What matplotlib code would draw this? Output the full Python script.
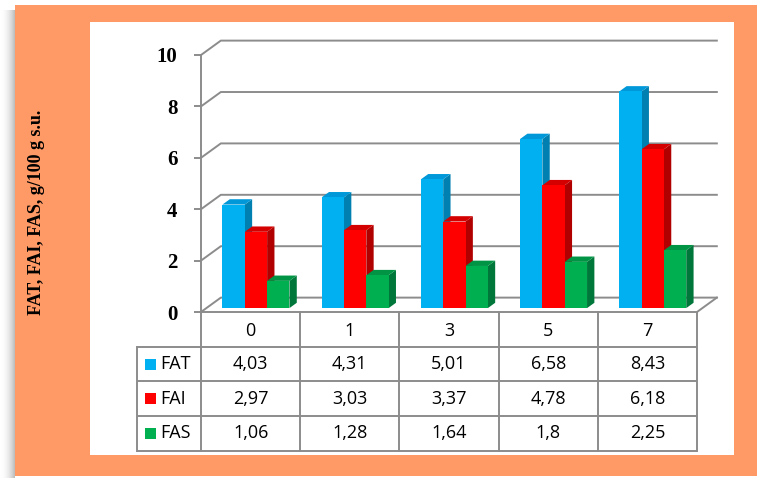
import matplotlib.pyplot as plt
import numpy as np
from matplotlib.patches import Rectangle, Polygon

# data
days = ["0", "1", "3", "5", "7"]
fat = [4.03, 4.31, 5.01, 6.58, 8.43]
fai = [2.97, 3.03, 3.37, 4.78, 6.18]
fas = [1.06, 1.28, 1.64, 1.8, 2.25]
series_names = ["FAT", "FAI", "FAS"]
series_vals = [fat, fai, fas]

front = ["#00B0F0", "#FF0000", "#00B050"]
side = ["#0080B0", "#B00000", "#00773A"]
top = ["#0098D8", "#D40000", "#009444"]

grid_c = "#8C8C8C"
orange = "#FF9966"

W, H = 759, 478
fig = plt.figure(figsize=(W / 100, H / 100), dpi=100)

# background layer in pixel coordinates
bg = fig.add_axes([0, 0, 1, 1], zorder=0)
bg.set_xlim(0, W)
bg.set_ylim(H, 0)
bg.axis("off")

# soft shadow left of the orange frame
for k in range(15):
    a = 0.45 * (k / 14) ** 2
    bg.add_patch(Rectangle((k, 10), 1, H - 10, color="#707070", alpha=a, lw=0))
bg.add_patch(Rectangle((15, 5), 742, 471, color=orange, lw=0))
bg.add_patch(Rectangle((90, 22), 644, 433, color="white", lw=0))

bg.text(37, 212, "FAT, FAI, FAS, g/100 g s.u.", rotation=90, ha="center",
        va="center", fontsize=13, fontweight="bold", family="Liberation Serif")

# data table under the plot
col_l, col_w = 201, 99.2
leg_l = 137
rows = [312, 347, 381, 416, 451]
ncol = len(days)
col_r = col_l + ncol * col_w
lw_t = 1.4
for y in rows[1:]:
    bg.plot([leg_l, col_r], [y, y], color=grid_c, lw=lw_t, solid_capstyle="butt")
for j in range(ncol + 1):
    x = col_l + j * col_w
    bg.plot([x, x], [rows[0], rows[-1]], color=grid_c, lw=lw_t)
bg.plot([leg_l, leg_l], [rows[1], rows[-1]], color=grid_c, lw=lw_t)

tfont = dict(family="Open Sans", fontsize=13, ha="center", va="center")
for j, d in enumerate(days):
    bg.text(col_l + (j + 0.5) * col_w, (rows[0] + rows[1]) / 2 + 1, d, **tfont)
for i, (name, vals) in enumerate(zip(series_names, series_vals)):
    yc = (rows[i + 1] + rows[i + 2]) / 2
    bg.add_patch(Rectangle((145, yc - 5.5), 11, 11, color=front[i], lw=0))
    bg.text(160, yc, name, family="Open Sans", fontsize=13, ha="left", va="center")
    for j, v in enumerate(vals):
        bg.text(col_l + (j + 0.5) * col_w, yc, f"{v:g}".replace(".", ","), **tfont)

# chart axes
ax = fig.add_axes([201 / W, (H - 312) / H, ncol * col_w / W, 257 / H], zorder=1)
ax.patch.set_visible(False)
ax.set_xlim(-0.5, ncol - 0.5)
ax.set_ylim(0, 10)

dxu, dyu = 0.2, 0.56  # floor depth in data units
for v in range(0, 11, 2):
    ax.plot([-0.5, -0.5 + dxu, ncol - 0.5 + dxu], [v, v + dyu, v + dyu],
            color=grid_c, lw=1.4, clip_on=False, zorder=1)
ax.plot([ncol - 0.5, ncol - 0.5 + dxu], [0, dyu], color=grid_c, lw=1.4,
        clip_on=False, zorder=1)

for s in ["top", "right"]:
    ax.spines[s].set_visible(False)
for s in ["left", "bottom"]:
    ax.spines[s].set_color(grid_c)
    ax.spines[s].set_linewidth(1.4)
ax.set_xticks([])
ax.set_yticks(range(0, 11, 2))
ax.tick_params(axis="y", length=5, width=1.4, color=grid_c, pad=12)
for lab in ax.get_yticklabels():
    lab.set_fontfamily("Liberation Serif")
    lab.set_fontweight("bold")
    lab.set_fontsize(15)

# 3d-looking columns
bw = 0.225
f0, f1 = 0.27, 0.64
ddx, ddy = (f1 - f0) * dxu, (f1 - f0) * dyu
x = np.arange(ncol)
for s, vals in enumerate(series_vals):
    x0 = x - 1.5 * bw + s * bw + f0 * dxu
    y0 = f0 * dyu
    ax.bar(x0, vals, width=bw, bottom=y0, align="edge", color=front[s],
           lw=0, zorder=3)
    for xi, v in zip(x0, vals):
        ax.add_patch(Polygon([(xi + bw, y0), (xi + bw + ddx, y0 + ddy),
                              (xi + bw + ddx, y0 + v + ddy), (xi + bw, y0 + v)],
                             closed=True, color=side[s], lw=0, zorder=2.5))
        ax.add_patch(Polygon([(xi, y0 + v), (xi + bw, y0 + v),
                              (xi + bw + ddx, y0 + v + ddy), (xi + ddx, y0 + v + ddy)],
                             closed=True, color=top[s], lw=0, zorder=2.5))

fig.savefig("out.png", dpi=100)
